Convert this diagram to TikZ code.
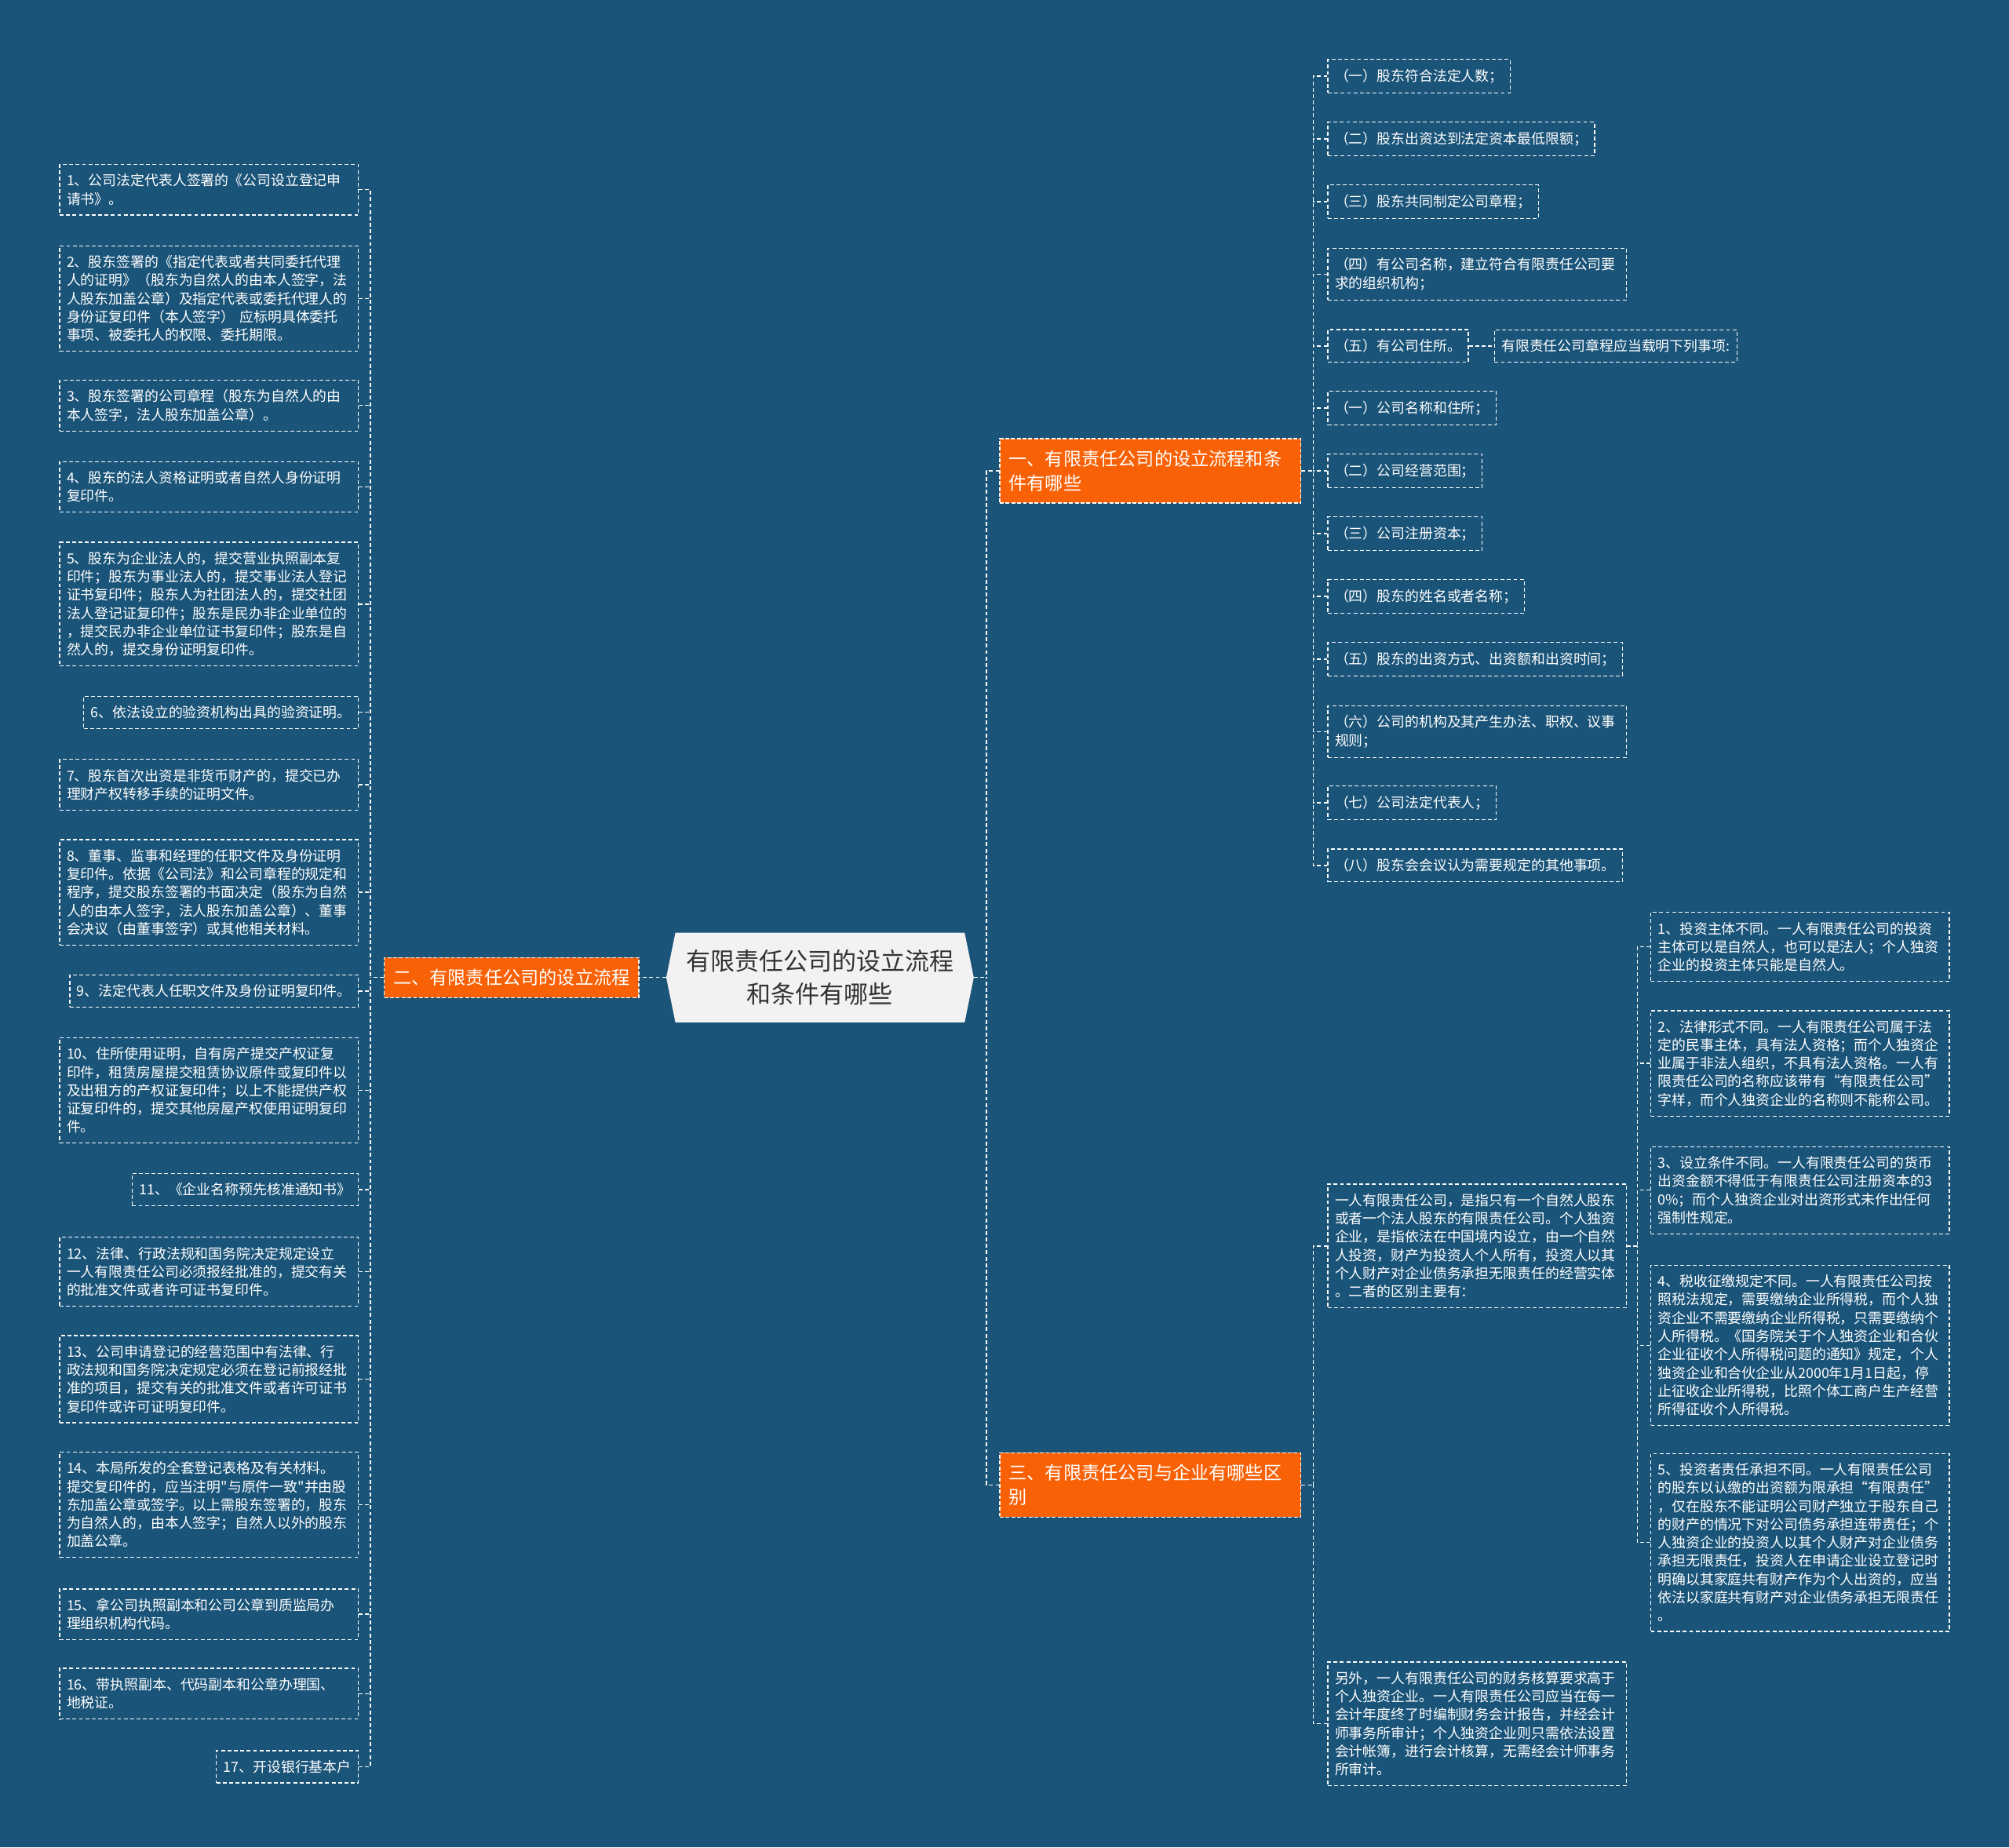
\documentclass[tikz,border=0pt]{standalone}
\usepackage{fontspec}
\setmainfont{Noto Sans CJK SC}[Ligatures=TeXOff]
\usetikzlibrary{shapes.symbols,positioning}
\definecolor{bgblue}{HTML}{1A5479}
\definecolor{branchorange}{HTML}{F96106}
\definecolor{rootgray}{HTML}{F2F2F2}
\definecolor{roottext}{HTML}{333333}

\begin{document}
\begin{tikzpicture}[x=1pt, y=-1pt,
    link/.style={white, line width=0.9pt, dash pattern=on 3pt off 2pt},
    rootnode/.style={signal, signal to=east and west, signal pointer angle=157,
        fill=rootgray, text=roottext, minimum width=240pt, minimum height=70pt,
        align=center, inner sep=2pt, font=\fontsize{19}{26}\selectfont},
    branch/.style={fill=branchorange, draw=white, line width=0.8pt,
        dash pattern=on 3pt off 1.5pt, text=white, align=left,
        inner xsep=7pt, inner ysep=9pt, font=\fontsize{14.2}{19}\selectfont},
    leaf/.style={draw=white, line width=0.8pt, dash pattern=on 3pt off 2pt,
        text=white, align=left, inner xsep=5.5pt, inner ysep=7.5pt,
        font=\fontsize{10.95}{14.25}\selectfont},
    wideleaf/.style={leaf, text width=222pt}]

    % --- Background ---
    \fill[bgblue] (0,0) rectangle (1568,1442);
    \useasboundingbox (0,0) rectangle (1568,1442);

    % --- Root and branches ---
    \node[rootnode] (root) at (640,763) {有限责任公司的设立流程\\和条件有哪些};
    \node[branch, text width=221pt, anchor=west] (b1) at (780,367.5) {一、有限责任公司的设立流程和条\\件有哪些};
    \node[branch, anchor=east] (b2) at (499,763) {二、有限责任公司的设立流程};
    \node[branch, text width=221pt, anchor=west] (b3) at (780,1159) {三、有限责任公司与企业有哪些区\\别};

    \coordinate (rhub) at (770,763);
    \coordinate (lhub) at (289,763);
    \coordinate (ahub) at (1025,367.5);
    \coordinate (chub) at (1025,1159);
    \coordinate (dhub) at (1278,972.5);

    % --- Left: documents for registration ---
    \node[wideleaf, anchor=east] (l1) at (280,148) {1、公司法定代表人签署的《公司设立登记申\\请书》。};
    \node[wideleaf, anchor=east] (l2) at (280,233) {2、股东签署的《指定代表或者共同委托代理\\人的证明》（股东为自然人的由本人签字，法\\人股东加盖公章）及指定代表或委托代理人的\\身份证复印件（本人签字） 应标明具体委托\\事项、被委托人的权限、委托期限。};
    \node[wideleaf, anchor=east] (l3) at (280,316.5) {3、股东签署的公司章程（股东为自然人的由\\本人签字，法人股东加盖公章）。};
    \node[wideleaf, anchor=east] (l4) at (280,380) {4、股东的法人资格证明或者自然人身份证明\\复印件。};
    \node[wideleaf, anchor=east] (l5) at (280,471.5) {5、股东为企业法人的，提交营业执照副本复\\印件；股东为事业法人的，提交事业法人登记\\证书复印件；股东人为社团法人的，提交社团\\法人登记证复印件；股东是民办非企业单位的\\，提交民办非企业单位证书复印件；股东是自\\然人的，提交身份证明复印件。};
    \node[leaf, anchor=east] (l6) at (280,556) {6、依法设立的验资机构出具的验资证明。};
    \node[wideleaf, anchor=east] (l7) at (280,612.5) {7、股东首次出资是非货币财产的，提交已办\\理财产权转移手续的证明文件。};
    \node[wideleaf, anchor=east] (l8) at (280,696.5) {8、董事、监事和经理的任职文件及身份证明\\复印件。依据《公司法》和公司章程的规定和\\程序，提交股东签署的书面决定（股东为自然\\人的由本人签字，法人股东加盖公章）、董事\\会决议（由董事签字）或其他相关材料。};
    \node[leaf, anchor=east] (l9) at (280,773.5) {9、法定代表人任职文件及身份证明复印件。};
    \node[wideleaf, anchor=east] (l10) at (280,851) {10、住所使用证明，自有房产提交产权证复\\印件，租赁房屋提交租赁协议原件或复印件以\\及出租方的产权证复印件；以上不能提供产权\\证复印件的，提交其他房屋产权使用证明复印\\件。};
    \node[leaf, anchor=east] (l11) at (280,928.5) {11、《企业名称预先核准通知书》};
    \node[wideleaf, anchor=east] (l12) at (280,992.5) {12、法律、行政法规和国务院决定规定设立\\一人有限责任公司必须报经批准的，提交有关\\的批准文件或者许可证书复印件。};
    \node[wideleaf, anchor=east] (l13) at (280,1076.5) {13、公司申请登记的经营范围中有法律、行\\政法规和国务院决定规定必须在登记前报经批\\准的项目，提交有关的批准文件或者许可证书\\复印件或许可证明复印件。};
    \node[wideleaf, anchor=east] (l14) at (280,1174.5) {14、本局所发的全套登记表格及有关材料。\\提交复印件的，应当注明"与原件一致"并由股\\东加盖公章或签字。以上需股东签署的，股东\\为自然人的，由本人签字；自然人以外的股东\\加盖公章。};
    \node[wideleaf, anchor=east] (l15) at (280,1260) {15、拿公司执照副本和公司公章到质监局办\\理组织机构代码。};
    \node[wideleaf, anchor=east] (l16) at (280,1322) {16、带执照副本、代码副本和公章办理国、\\地税证。};
    \node[leaf, anchor=east] (l17) at (280,1379) {17、开设银行基本户};

    % --- Right top: conditions ---
    \node[leaf, anchor=west] (a1) at (1036,59.5) {（一）股东符合法定人数；};
    \node[leaf, anchor=west] (a2) at (1036,108.5) {（二）股东出资达到法定资本最低限额；};
    \node[leaf, anchor=west] (a3) at (1036,157.5) {（三）股东共同制定公司章程；};
    \node[wideleaf, anchor=west] (a4) at (1036,214) {（四）有公司名称，建立符合有限责任公司要\\求的组织机构；};
    \node[leaf, anchor=west] (a5) at (1036,270) {（五）有公司住所。};
    \node[leaf, anchor=west] (a5x) at (1166,270) {有限责任公司章程应当载明下列事项:};
    \node[leaf, anchor=west] (a6) at (1036,318.5) {（一）公司名称和住所；};
    \node[leaf, anchor=west] (a7) at (1036,367.5) {（二）公司经营范围；};
    \node[leaf, anchor=west] (a8) at (1036,416.5) {（三）公司注册资本；};
    \node[leaf, anchor=west] (a9) at (1036,465.5) {（四）股东的姓名或者名称；};
    \node[leaf, anchor=west] (a10) at (1036,514.5) {（五）股东的出资方式、出资额和出资时间；};
    \node[wideleaf, anchor=west] (a11) at (1036,571) {（六）公司的机构及其产生办法、职权、议事\\规则；};
    \node[leaf, anchor=west] (a12) at (1036,626.5) {（七）公司法定代表人；};
    \node[leaf, anchor=west] (a13) at (1036,675.5) {（八）股东会会议认为需要规定的其他事项。};

    % --- Right bottom: differences ---
    \node[wideleaf, anchor=west] (c1) at (1036,972.5) {一人有限责任公司，是指只有一个自然人股东\\或者一个法人股东的有限责任公司。个人独资\\企业，是指依法在中国境内设立，由一个自然\\人投资，财产为投资人个人所有，投资人以其\\个人财产对企业债务承担无限责任的经营实体\\。二者的区别主要有：};
    \node[wideleaf, anchor=west] (c2) at (1036,1345.5) {另外，一人有限责任公司的财务核算要求高于\\个人独资企业。一人有限责任公司应当在每一\\会计年度终了时编制财务会计报告，并经会计\\师事务所审计；个人独资企业则只需依法设置\\会计帐簿，进行会计核算，无需经会计师事务\\所审计。};
    \node[wideleaf, anchor=west] (d1) at (1288,739) {1、投资主体不同。一人有限责任公司的投资\\主体可以是自然人，也可以是法人；个人独资\\企业的投资主体只能是自然人。};
    \node[wideleaf, anchor=west] (d2) at (1288,830) {2、法律形式不同。一人有限责任公司属于法\\定的民事主体，具有法人资格；而个人独资企\\业属于非法人组织，不具有法人资格。一人有\\限责任公司的名称应该带有“有限责任公司”\\字样，而个人独资企业的名称则不能称公司。};
    \node[wideleaf, anchor=west] (d3) at (1288,929) {3、设立条件不同。一人有限责任公司的货币\\出资金额不得低于有限责任公司注册资本的3\\0\%；而个人独资企业对出资形式未作出任何\\强制性规定。};
    \node[wideleaf, anchor=west] (d4) at (1288,1050) {4、税收征缴规定不同。一人有限责任公司按\\照税法规定，需要缴纳企业所得税，而个人独\\资企业不需要缴纳企业所得税，只需要缴纳个\\人所得税。《国务院关于个人独资企业和合伙\\企业征收个人所得税问题的通知》规定，个人\\独资企业和合伙企业从2000年1月1日起，停\\止征收企业所得税，比照个体工商户生产经营\\所得征收个人所得税。};
    \node[wideleaf, anchor=west] (d5) at (1288,1204) {5、投资者责任承担不同。一人有限责任公司\\的股东以认缴的出资额为限承担“有限责任”\\，仅在股东不能证明公司财产独立于股东自己\\的财产的情况下对公司债务承担连带责任；个\\人独资企业的投资人以其个人财产对企业债务\\承担无限责任，投资人在申请企业设立登记时\\明确以其家庭共有财产作为个人出资的，应当\\依法以家庭共有财产对企业债务承担无限责任\\。};

    % --- Links ---
    \draw[link] (root.west) -- (b2.east);
    \draw[link] (root.east) -- (rhub);
    \draw[link] (b1.west) -| (rhub);
    \draw[link] (b3.west) -| (rhub);

    \draw[link] (b2.west) -- (lhub);
    \draw[link] (l1.east) -| (lhub);
    \draw[link] (l17.east) -| (lhub);
    \foreach \i in {2,...,16}
        \draw[link] (l\i.east) -- (l\i.east -| lhub);

    \draw[link] (b1.east) -- (ahub);
    \draw[link] (a1.west) -| (ahub);
    \draw[link] (a13.west) -| (ahub);
    \foreach \i in {2,...,12}
        \draw[link] (a\i.west) -- (a\i.west -| ahub);
    \draw[link] (a5.east) -- (a5x.west);

    \draw[link] (b3.east) -- (chub);
    \draw[link] (c1.west) -| (chub);
    \draw[link] (c2.west) -| (chub);

    \draw[link] (c1.east) -- (dhub);
    \draw[link] (d1.west) -| (dhub);
    \draw[link] (d5.west) -| (dhub);
    \foreach \i in {2,3,4}
        \draw[link] (d\i.west) -- (d\i.west -| dhub);
\end{tikzpicture}
\end{document}
